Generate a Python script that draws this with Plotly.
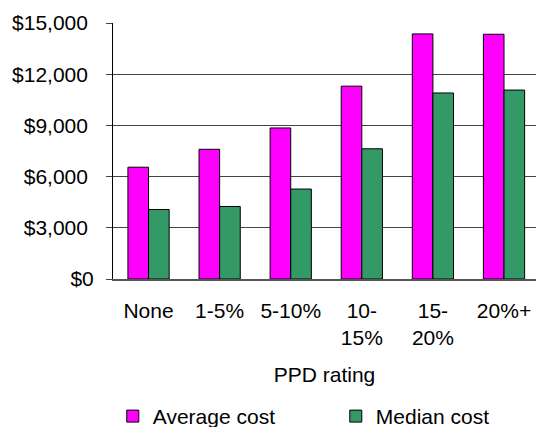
import plotly.graph_objects as go

categories = ["None", "1-5%", "5-10%", "10-<br>15%", "15-<br>20%", "20%+"]
average_cost = [6550, 7600, 8850, 11300, 14360, 14340]
median_cost = [4070, 4250, 5270, 7630, 10900, 11070]
y_ticks = [0, 3000, 6000, 9000, 12000, 15000]
y_tick_labels = ["$0", "$3,000\u00a0", "$6,000\u00a0", "$9,000\u00a0", "$12,000\u00a0", "$15,000\u00a0"]

FONT = "Liberation Sans, Arial, sans-serif"
FS = 21

fig = go.Figure()
fig.add_trace(go.Bar(
    x=categories, y=average_cost, name="Average cost",
    marker=dict(color="#FF00FF", line=dict(color="black", width=1)),
))
fig.add_trace(go.Bar(
    x=categories, y=median_cost, name="Median cost",
    marker=dict(color="#339966", line=dict(color="black", width=1)),
))

fig.update_layout(
    width=536, height=427,
    margin=dict(l=113, r=0, t=23, b=148, autoexpand=False),
    paper_bgcolor="white", plot_bgcolor="white",
    font=dict(family=FONT, size=FS, color="black"),
    barmode="group", bargap=0.42, bargroupgap=0,
    showlegend=True,
    legend=dict(
        orientation="h", x=-0.0005, xanchor="left",
        y=-0.537, yanchor="middle",
        font=dict(size=FS), entrywidth=178, entrywidthmode="pixels",
        itemclick=False, bgcolor="rgba(0,0,0,0)",
        traceorder="normal",
    ),
)
fig.update_xaxes(
    type="category", range=[-0.5, 5.45],
    showline=True, linecolor="#555555", linewidth=1.5,
    ticks="", showgrid=False, automargin=False,
    ticklabelstandoff=12,
    title=dict(text="PPD rating", standoff=19, font=dict(size=FS)),
    tickfont=dict(size=FS),
)
fig.update_yaxes(
    range=[0, 15000], tickvals=y_ticks, ticktext=y_tick_labels,
    showline=True, linecolor="black", linewidth=1,
    ticks="outside", ticklen=6, tickcolor="#444444",
    showgrid=True, gridcolor="#444444", gridwidth=1,
    zeroline=False, ticklabelstandoff=8, automargin=False,
    tickfont=dict(size=FS),
)

fig.write_html("out.html", config={"displayModeBar": False},
               post_script="document.body.style.margin='0';")
